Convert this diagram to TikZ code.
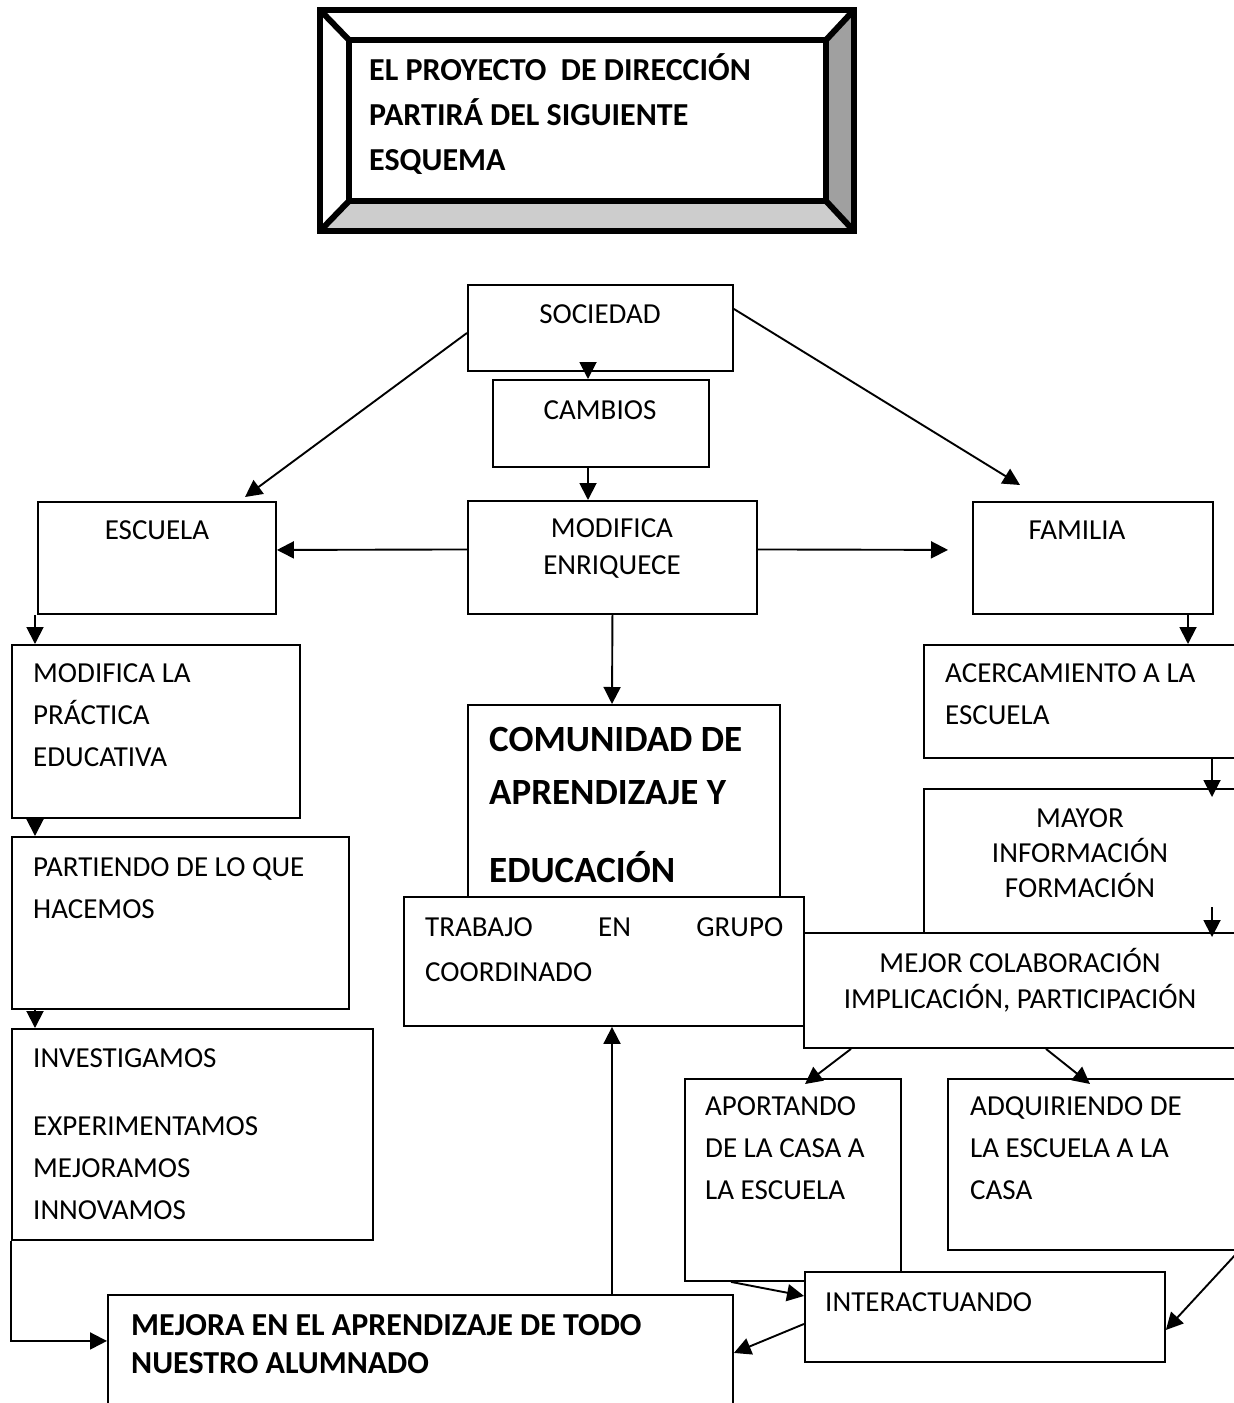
\documentclass[tikz,border=0pt]{standalone}
\usepackage{fontspec}
\setmainfont{Carlito}
\usetikzlibrary{arrows.meta}
\definecolor{bevdark}{HTML}{A0A0A0}
\definecolor{bevlight}{HTML}{CDCDCD}
\begin{document}
\begin{tikzpicture}[x=1pt, y=-1pt,
    box/.style={draw, line width=1.9pt, fill=white, inner sep=0pt, anchor=north west},
    txt/.style={inner sep=0pt, anchor=base west, font=\fontsize{29pt}{42pt}\selectfont},
    arr/.style={-{Triangle[length=17pt,width=17pt]}, line width=1.9pt}]
    \useasboundingbox (0,0) rectangle (1234,1403);
    % title frame
    \fill[white] (320,10) rectangle (854,231);
    \fill[bevdark] (854,10) -- (826,40) -- (826,201) -- (854,231) -- cycle;
    \fill[bevlight] (320,231) -- (349,201) -- (826,201) -- (854,231) -- cycle;
    \draw[line width=6pt] (320,10) rectangle (854,231);
    \draw[line width=6pt] (349,40) rectangle (826,201);
    \draw[line width=6pt] (320,10) -- (349,40) (854,10) -- (826,40) (320,231) -- (349,201) (854,231) -- (826,201);
    \node[txt, font=\bfseries\fontsize{32pt}{45pt}\selectfont] (tit) at (369,80) {\parbox[t]{450pt}{EL PROYECTO\ \ DE DIRECCIÓN\\PARTIRÁ DEL SIGUIENTE\\ESQUEMA}};
    % boxes
    \node[box, minimum width=265pt, minimum height=86pt] (soc) at (467,284) {};
    \node[box, minimum width=216pt, minimum height=87pt] (cam) at (492,379) {};
    \node[box, minimum width=289pt, minimum height=113pt] (mod) at (467,500) {};
    \node[box, minimum width=238pt, minimum height=112pt] (esc) at (37,501) {};
    \node[box, minimum width=240pt, minimum height=112pt] (fam) at (972,501) {};
    \node[box, minimum width=288pt, minimum height=173pt] (mlp) at (11,644) {};
    \node[box, minimum width=337pt, minimum height=172pt] (par) at (11,836) {};
    \node[box, minimum width=361pt, minimum height=211pt] (inv) at (11,1028) {};
    \node[box, minimum width=625pt, minimum height=130pt] (mej) at (107,1294) {};
    \node[box, minimum width=312pt, minimum height=192pt] (com) at (467,704) {};
    \node[box, minimum width=400pt, minimum height=129pt] (tra) at (403,896) {};
    \node[box, minimum width=330pt, minimum height=113pt] (acer) at (923,644) {};
    \node[box, minimum width=330pt, minimum height=144pt] (may) at (923,788) {};
    \node[box, minimum width=450pt, minimum height=115pt] (mejc) at (803,932) {};
    \node[box, minimum width=216pt, minimum height=202pt] (apo) at (684,1078) {};
    \node[box, minimum width=290pt, minimum height=171pt] (adq) at (947,1078) {};
    \node[box, minimum width=360pt, minimum height=90pt] (int) at (804,1271) {};
    % texts
    \node[txt, anchor=base] (soc-t) at (600,323) {SOCIEDAD};
    \node[txt, anchor=base] (cam-t) at (600,419) {CAMBIOS};
    \node[txt, anchor=base, font=\fontsize{29pt}{37pt}\selectfont] (mod-t) at (612,537) {\parbox[t]{280pt}{\centering MODIFICA\\ENRIQUECE}};
    \node[txt, anchor=base] (esc-t) at (157,539) {ESCUELA};
    \node[txt, anchor=base] (fam-t) at (1077,539) {FAMILIA};
    \node[txt] (mlp-t) at (33,682) {\parbox[t]{260pt}{MODIFICA LA\\PRÁCTICA\\EDUCATIVA}};
    \node[txt] (par-t) at (33,876) {\parbox[t]{310pt}{PARTIENDO DE LO QUE\\HACEMOS}};
    \node[txt] (inv-t) at (33,1067) {\parbox[t]{330pt}{INVESTIGAMOS\\[26pt]EXPERIMENTAMOS\\MEJORAMOS\\INNOVAMOS}};
    \node[txt, font=\bfseries\fontsize{37pt}{53pt}\selectfont] (com-t) at (489,751) {\parbox[t]{290pt}{COMUNIDAD DE\\APRENDIZAJE Y\\[25pt]EDUCACIÓN}};
    \node[txt, font=\fontsize{29pt}{45pt}\selectfont] (tra-t) at (425,936) {\parbox[t]{358pt}{TRABAJO\hfill EN\hfill GRUPO\\COORDINADO}};
    \node[txt, font=\bfseries\fontsize{32pt}{38pt}\selectfont] (mej-t) at (131,1335) {\parbox[t]{600pt}{MEJORA EN EL APRENDIZAJE DE TODO\\NUESTRO ALUMNADO}};
    \node[txt] (acer-t) at (945,682) {\parbox[t]{290pt}{ACERCAMIENTO A LA\\ESCUELA}};
    \node[txt, anchor=base, font=\fontsize{29pt}{35pt}\selectfont] (may-t) at (1080,827) {\parbox[t]{300pt}{\centering MAYOR\\INFORMACIÓN\\FORMACIÓN}};
    \node[txt, anchor=base, font=\fontsize{29pt}{36pt}\selectfont] (mejc-t) at (1020,972) {\parbox[t]{420pt}{\centering MEJOR COLABORACIÓN\\IMPLICACIÓN, PARTICIPACIÓN}};
    \node[txt] (apo-t) at (705,1115) {\parbox[t]{190pt}{APORTANDO\\DE LA CASA A\\LA ESCUELA}};
    \node[txt] (adq-t) at (970,1115) {\parbox[t]{260pt}{ADQUIRIENDO DE\\LA ESCUELA A LA\\CASA}};
    \node[txt] (int-t) at (825,1311) {INTERACTUANDO};
    % connectors
    \draw[arr] ([xshift=121pt]soc.south west) -- ([xshift=96pt]cam.north west);
    \draw[arr] ([xshift=96pt]cam.south west) -- ([xshift=121pt]mod.north west);
    \draw[arr] ([yshift=8pt]mod.west) -- ([yshift=8pt]esc.east);
    \draw[arr, shorten >=24pt] ([yshift=8pt]mod.east) -- ([yshift=8pt]fam.west);
    \draw[arr] ([yshift=-5pt]soc.west) -- ([xshift=208pt,yshift=4pt]esc.north west);
    \draw[arr] ([yshift=19pt]soc.east) -- ([xshift=48pt,yshift=16pt]fam.north west);
    \draw[arr] (mod.south) -- ([xshift=145pt]com.north west);
    \draw[arr] ([xshift=-2pt]esc.south west) -- ([xshift=24pt]mlp.north west);
    \draw[arr] ([xshift=24pt]mlp.south west) -- ([xshift=24pt]par.north west);
    \draw[arr] ([xshift=24pt]par.south west) -- ([xshift=24pt]inv.north west);
    \draw[arr] (inv.south west) |- ([yshift=19pt]mej.west);
    \draw[arr] ([xshift=505pt]mej.north west) -- ([xshift=209pt]tra.south west);
    \draw[arr] ([xshift=216pt]fam.south west) -- ([xshift=265pt]acer.north west);
    \draw[arr] ([xshift=289pt]acer.south west) -- ([xshift=289pt,yshift=-9pt]may.north west);
    \draw[arr] ([xshift=289pt,yshift=-119pt]may.north west) -- ([xshift=409pt,yshift=-5pt]mejc.north west);
    \draw[arr] ([xshift=48pt]mejc.south west) -- ([xshift=121pt,yshift=-6pt]apo.north west);
    \draw[arr] ([xshift=243pt]mejc.south west) -- ([xshift=143pt,yshift=-6pt]adq.north west);
    \draw[arr] ([xshift=47pt]apo.south west) -- ([yshift=21pt]int.west);
    \draw[arr] ([yshift=-7pt]int.west) -- ([yshift=7pt]mej.east);
    \draw[arr] (adq.south east) -- ([yshift=-13pt]int.east);
\end{tikzpicture}
\end{document}
